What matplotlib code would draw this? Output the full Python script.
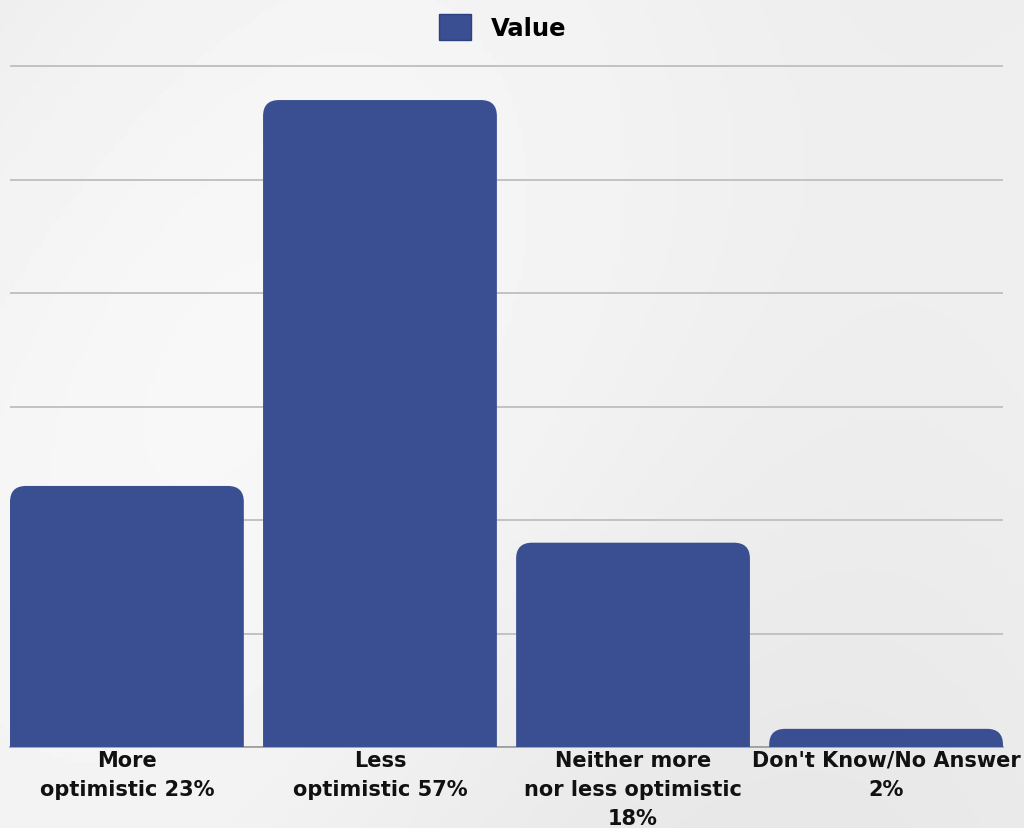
import numpy as np
import matplotlib.pyplot as plt
from matplotlib.path import Path
from matplotlib.patches import PathPatch, Patch

categories = ["More\noptimistic 23%", "Less\noptimistic 57%",
              "Neither more\nnor less optimistic\n18%", "Don't Know/No Answer\n2%"]
values = [23, 57, 18, 1.6]
legend_label = "Value"

bar_color = "#3a4f91"

fig = plt.figure(figsize=(10.24, 8.29), dpi=100)
fig.patch.set_facecolor("#f1f1f1")

# soft grey background
bg = fig.add_axes([0, 0, 1, 1], zorder=-10)
yy, xx = np.mgrid[0:1:200j, 0:1:200j]
shade = 0.935 + 0.035 * np.sin(3 * xx + 2 * yy) * np.cos(2 * xx - yy)
bg.imshow(shade, cmap="gray", vmin=0, vmax=1, extent=[0, 1, 0, 1], aspect="auto")
bg.axis("off")

ymax = 61
ax = fig.add_axes([10 / 1024, 1 - 748 / 829, 993 / 1024, (748 - 67 + 11.35) / 829])
ax.set_facecolor("none")
ax.set_xlim(-0.462, len(values) - 1 + 0.462)
ax.set_ylim(0, ymax)

bars = ax.bar(range(len(values)), values, width=0.924, color=bar_color, alpha=0)

# rounded top corners
px_x = 993 / (ax.get_xlim()[1] - ax.get_xlim()[0])
px_y = (748 - 67) / 60
r = 16
for b in bars:
    x0, w, h = b.get_x(), b.get_width(), b.get_height()
    rx, ry = r / px_x, min(r / px_y, h)
    verts = [(x0, 0), (x0, h - ry), (x0, h), (x0 + rx, h),
             (x0 + w - rx, h), (x0 + w, h), (x0 + w, h - ry),
             (x0 + w, 0), (x0, 0)]
    codes = [Path.MOVETO, Path.LINETO, Path.CURVE3, Path.CURVE3,
             Path.LINETO, Path.CURVE3, Path.CURVE3, Path.LINETO, Path.CLOSEPOLY]
    ax.add_patch(PathPatch(Path(verts, codes), facecolor=bar_color,
                           edgecolor="none", zorder=3))

ax.set_yticks(np.arange(0, 61, 10))
ax.yaxis.grid(True, color="#c2c2c2", linewidth=1.4, zorder=0)
ax.tick_params(axis="y", length=0, labelleft=False)
ax.tick_params(axis="x", length=0, pad=2)
ax.set_xticks(range(len(values)))
ax.set_xticklabels(categories, fontsize=15, fontweight="bold",
                   linespacing=1.58, color="#111111")
for s in ["top", "right", "left"]:
    ax.spines[s].set_visible(False)
ax.spines["bottom"].set_color("#9a9a9a")
ax.spines["bottom"].set_linewidth(1.2)

leg = fig.legend(handles=[Patch(facecolor=bar_color, edgecolor="#2c3f80")],
                 labels=[legend_label], loc="center", bbox_to_anchor=(0.491, 1 - 28 / 829),
                 frameon=False, handlelength=1.3, handleheight=1.3, handletextpad=0.85,
                 prop={"weight": "bold", "size": 17.5})

fig.savefig("out.png", dpi=100, facecolor=fig.get_facecolor())
